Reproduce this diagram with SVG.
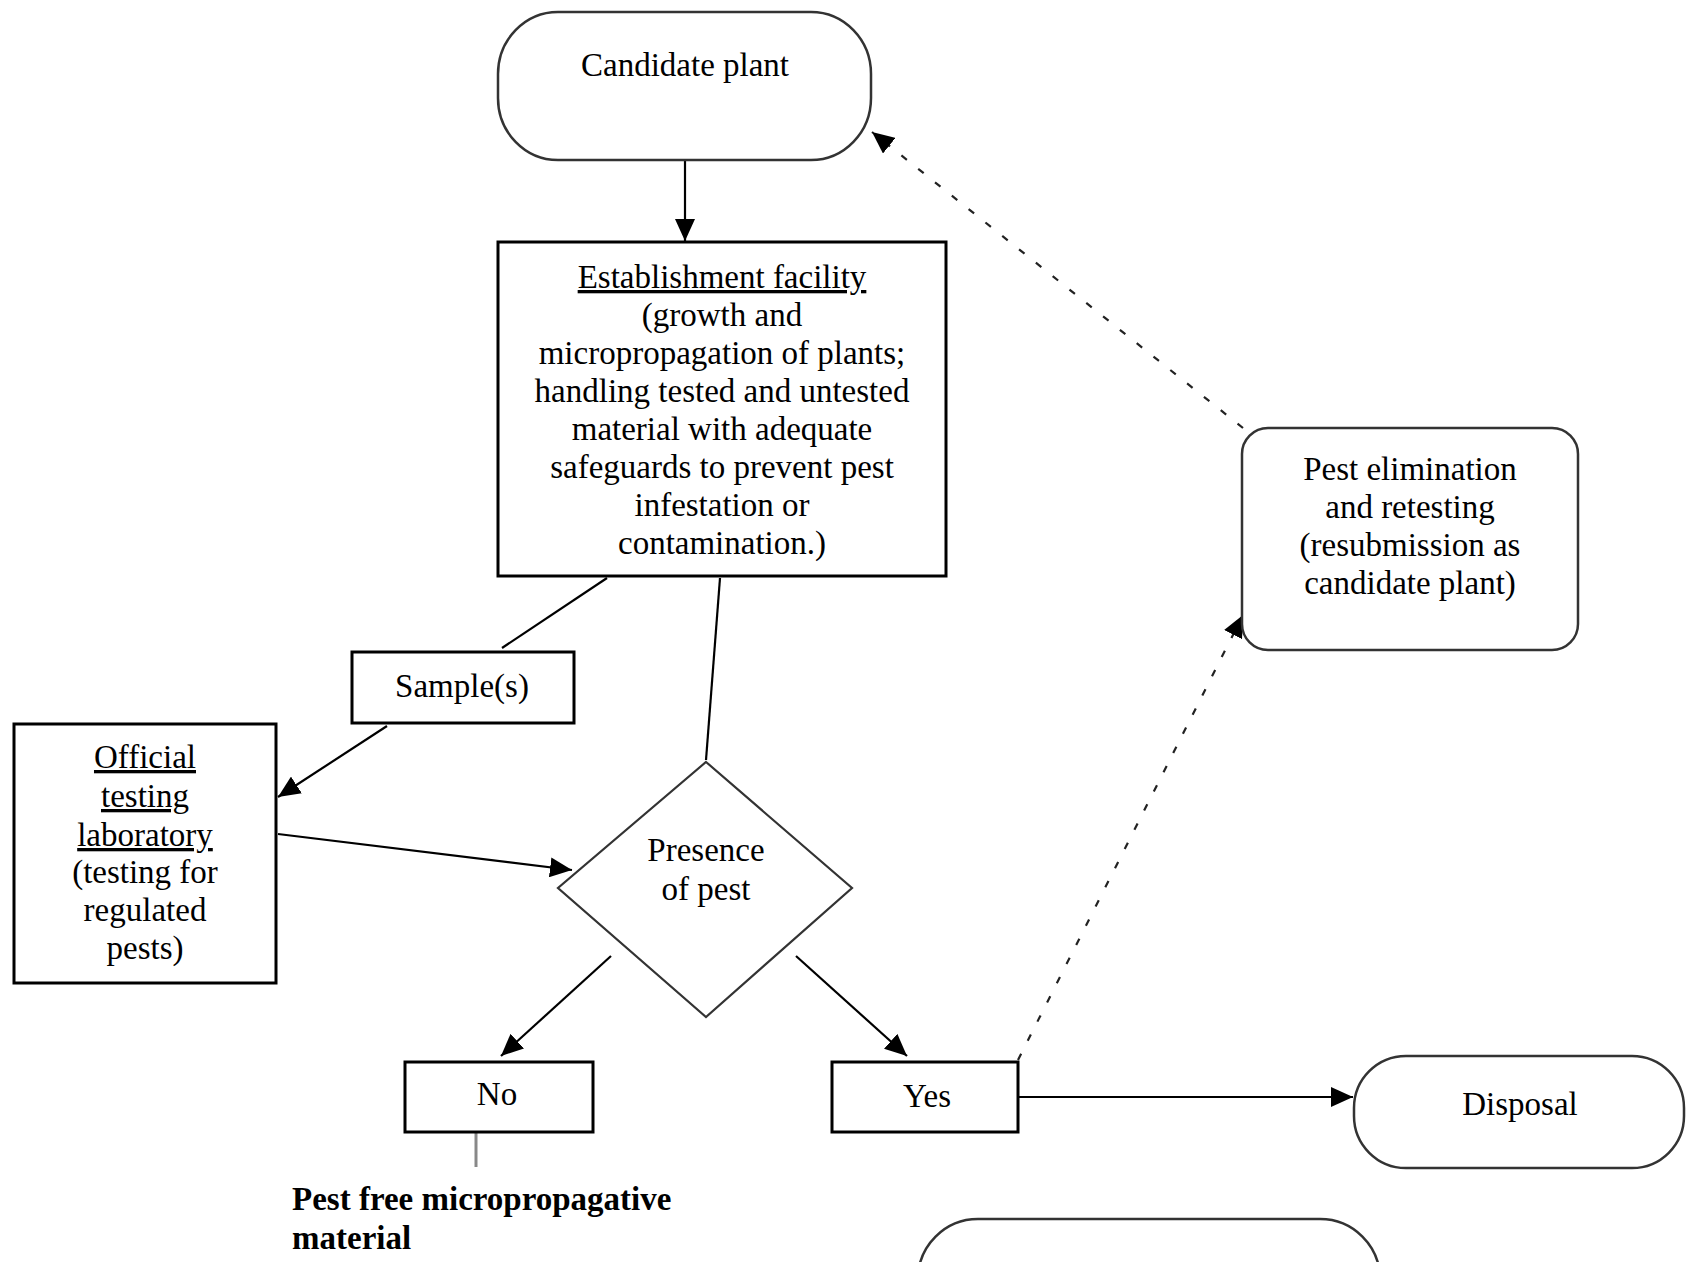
<svg xmlns="http://www.w3.org/2000/svg" width="1686" height="1262" viewBox="0 0 1686 1262">
<style>
  text { font-family: "Liberation Serif", "Times New Roman", serif; font-size: 33px; fill: #000; }
  .c { text-anchor: middle; }
  .u { text-decoration: underline; }
  .b { font-weight: bold; }
  .box { fill: #fff; stroke: #000; stroke-width: 3; }
  .round { fill: #fff; stroke: #333; stroke-width: 2.5; }
  .dia { fill: #fff; stroke: #333; stroke-width: 2.2; }
  .ln { stroke: #000; stroke-width: 2.2; fill: none; }
  .grey { stroke: #888; stroke-width: 3; fill: none; }
  .dash { stroke: #222; stroke-width: 2.2; fill: none; stroke-dasharray: 7 14.5; }
</style>
<defs>
  <marker id="ah" viewBox="0 0 22 20" refX="22" refY="10" markerWidth="22" markerHeight="20" markerUnits="userSpaceOnUse" orient="auto">
    <path d="M0,0 L22,10 L0,20 z" fill="#000"/>
  </marker>
</defs>
<rect width="1686" height="1262" fill="#fff"/>

<g id="connectors">
  <line class="ln" x1="685" y1="152" x2="685" y2="241" marker-end="url(#ah)"/>
  <line class="ln" x1="607" y1="578" x2="502" y2="648"/>
  <line class="ln" x1="387" y1="726" x2="278" y2="797" marker-end="url(#ah)"/>
  <line class="ln" x1="278" y1="834" x2="572" y2="870" marker-end="url(#ah)"/>
  <line class="ln" x1="720" y1="578" x2="706" y2="760"/>
  <line class="ln" x1="611" y1="956" x2="501" y2="1056" marker-end="url(#ah)"/>
  <line class="ln" x1="796" y1="956" x2="907" y2="1056" marker-end="url(#ah)"/>
  <line class="grey" x1="476" y1="1133" x2="476" y2="1167"/>
  <line class="ln" x1="1018" y1="1097" x2="1353" y2="1097" stroke-width="3" marker-end="url(#ah)"/>
  <line class="dash" x1="1018" y1="1060" x2="1243" y2="615" marker-end="url(#ah)"/>
  <line class="dash" x1="1243" y1="428" x2="872" y2="132" marker-end="url(#ah)"/>
</g>

<g id="candidate">
  <rect class="round" x="498" y="12" width="373" height="148" rx="60" ry="62"/>
  <text class="c" x="685" y="76">Candidate plant</text>
</g>

<g id="establishment">
  <rect class="box" x="498" y="242" width="448" height="334"/>
  <text class="c u" x="722" y="288">Establishment facility</text>
  <text class="c" x="722" y="326">(growth and</text>
  <text class="c" x="722" y="364">micropropagation of plants;</text>
  <text class="c" x="722" y="402">handling tested and untested</text>
  <text class="c" x="722" y="440">material with adequate</text>
  <text class="c" x="722" y="478">safeguards to prevent pest</text>
  <text class="c" x="722" y="516">infestation or</text>
  <text class="c" x="722" y="554">contamination.)</text>
</g>

<g id="sample">
  <rect class="box" x="352" y="652" width="222" height="71"/>
  <text class="c" x="462" y="697">Sample(s)</text>
</g>

<g id="lab">
  <rect class="box" x="14" y="724" width="262" height="259"/>
  <text class="c u" x="145" y="768">Official</text>
  <text class="c u" x="145" y="807">testing</text>
  <text class="c u" x="145" y="846">laboratory</text>
  <text class="c" x="145" y="883">(testing for</text>
  <text class="c" x="145" y="921">regulated</text>
  <text class="c" x="145" y="959">pests)</text>
</g>

<g id="decision">
  <polygon class="dia" points="706,762 852,888 706,1017 558,888"/>
  <text class="c" x="706" y="861">Presence</text>
  <text class="c" x="706" y="900">of pest</text>
</g>

<g id="no">
  <rect class="box" x="405" y="1062" width="188" height="70"/>
  <text class="c" x="497" y="1105">No</text>
</g>

<g id="yes">
  <rect class="box" x="832" y="1062" width="186" height="70"/>
  <text class="c" x="927" y="1107">Yes</text>
</g>

<g id="pestfree">
  <text class="b" x="292" y="1210">Pest free micropropagative</text>
  <text class="b" x="292" y="1249">material</text>
</g>

<g id="disposal">
  <rect class="round" x="1354" y="1056" width="330" height="112" rx="52" ry="52"/>
  <text class="c" x="1520" y="1115">Disposal</text>
</g>

<g id="elimination">
  <rect class="round" x="1242" y="428" width="336" height="222" rx="26" ry="26"/>
  <text class="c" x="1410" y="480">Pest elimination</text>
  <text class="c" x="1410" y="518">and retesting</text>
  <text class="c" x="1410" y="556">(resubmission as</text>
  <text class="c" x="1410" y="594">candidate plant)</text>
</g>

<g id="partial">
  <rect class="round" x="918" y="1219" width="462" height="200" rx="60" ry="60"/>
</g>
</svg>
